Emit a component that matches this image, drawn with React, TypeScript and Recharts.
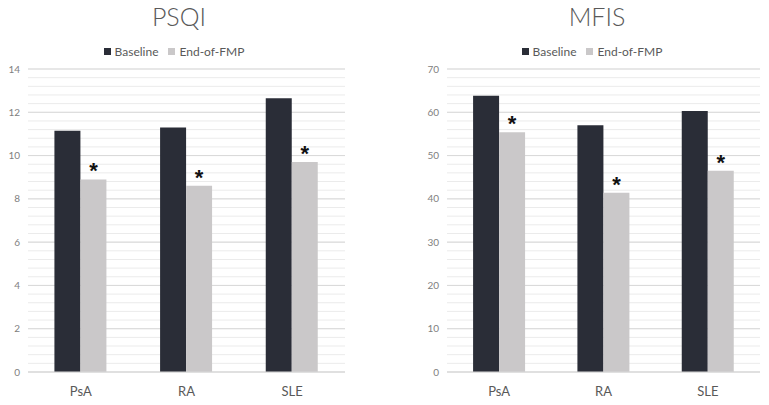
import { Bar, BarChart, CartesianGrid, LabelList, Legend, XAxis, YAxis } from "recharts";

const categories = ["PsA", "RA", "SLE"];

const psqiBaseline = [11.15, 11.3, 12.65];
const psqiEnd = [8.9, 8.6, 9.7];
const psqiTicks = [0, 2, 4, 6, 8, 10, 12, 14];

const mfisBaseline = [63.8, 57.0, 60.3];
const mfisEnd = [55.4, 41.4, 46.5];
const mfisTicks = [0, 10, 20, 30, 40, 50, 60, 70];

const BASE_COLOR = "#2a2d37";
const END_COLOR = "#cac8c9";
const FONT = "Lato, 'Open Sans', sans-serif";

// five minor lines per major step
function minorLines(ticks: number[]) {
  const step = (ticks[1] - ticks[0]) / 5;
  const out: number[] = [];
  const max = ticks[ticks.length - 1];
  for (let v = 0; v <= max + 1e-9; v += step) out.push(+v.toFixed(4));
  return out;
}

function Star(props: any) {
  const { x, y, width } = props;
  return (
    <text x={x + width / 2} y={y - 1} textAnchor="middle" fontSize={22} fontWeight="bold" fill="#111" fontFamily="'Liberation Sans', Arial, sans-serif">
      *
    </text>
  );
}

function Panel({
  title, baseline, end, ticks, left, width, margin, titleX,
}: {
  title: string; baseline: number[]; end: number[]; ticks: number[];
  left: number; width: number; margin: { top: number; right: number; left: number; bottom: number }; titleX: number;
}) {
  const data = categories.map((c, i) => ({ name: c, base: baseline[i], end: end[i] }));
  const max = ticks[ticks.length - 1];
  const minor = minorLines(ticks);
  const minorCoords = ({ yAxis, offset }: any) =>
    minor.map((v) =>
      yAxis && typeof yAxis.scale === "function"
        ? yAxis.scale(v)
        : offset.top + offset.height * (1 - v / max));
  return (
    <div style={{ position: "absolute", left, top: 0, width, height: 405, fontFamily: FONT }}>
      <div style={{ position: "absolute", top: 1, left: titleX - 60, width: 120, textAlign: "center", fontSize: 25, fontWeight: 300, color: "#595959" }}>
        {title}
      </div>
      <BarChart width={width} height={405} data={data} margin={margin} barGap={0} barCategoryGap="25%">
        <CartesianGrid vertical={false} horizontalCoordinatesGenerator={minorCoords} stroke="#ebebeb" />
        <CartesianGrid vertical={false} stroke="#d9d9d9" />
        <XAxis dataKey="name" height={30} tickLine={false} axisLine={{ stroke: "#d9d9d9" }} tickMargin={9}
          tick={{ fill: "#595959", fontSize: 13, fontFamily: FONT }} />
        <YAxis width={20} domain={[0, max]} ticks={ticks} axisLine={false} tickLine={false}
          tick={{ fill: "#808080", fontSize: 10, fontFamily: FONT }} />
        <Legend verticalAlign="middle" align="center" iconType="square" iconSize={7}
          wrapperStyle={{ top: 40, left: titleX - 120, width: 240 }}
          formatter={(v) => <span style={{ color: "#595959", fontSize: 12, fontFamily: FONT }}>{v}</span>} />
        <Bar dataKey="base" name="Baseline" fill={BASE_COLOR} isAnimationActive={false} />
        <Bar dataKey="end" name="End-of-FMP" fill={END_COLOR} isAnimationActive={false}>
          <LabelList dataKey="end" content={<Star />} />
        </Bar>
      </BarChart>
    </div>
  );
}

export default function App() {
  return (
    <div style={{ position: "absolute", left: 0, top: 0, width: 769, height: 405, background: "#fff" }}>
      <Panel title="PSQI" baseline={psqiBaseline} end={psqiEnd} ticks={psqiTicks} left={0} width={384}
        margin={{ top: 69, right: 39, left: 8, bottom: 3 }} titleX={179} />
      <Panel title="MFIS" baseline={mfisBaseline} end={mfisEnd} ticks={mfisTicks} left={384} width={385}
        margin={{ top: 69, right: 9, left: 43, bottom: 3 }} titleX={213} />
    </div>
  );
}
